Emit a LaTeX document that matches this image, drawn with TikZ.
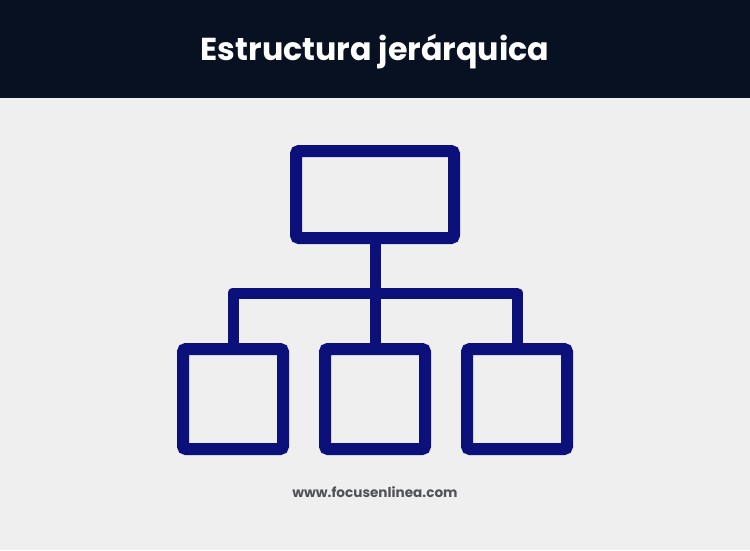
\documentclass[tikz,border=0pt]{standalone}
\usepackage{fontspec}
\setmainfont{Poppins}
\usepackage{tikz}
\usetikzlibrary{positioning}

\definecolor{headbg}{RGB}{7,17,33}
\definecolor{pagebg}{RGB}{239,239,239}
\definecolor{orgblue}{RGB}{12,16,122}
\definecolor{urlgray}{RGB}{80,82,86}

\begin{document}
\begin{tikzpicture}[x=1pt,y=1pt,node distance=142pt]
\tikzstyle{orgbox}=[draw=orgblue,line width=12pt,rounded corners=3pt,inner sep=0pt]
\tikzstyle{link}=[draw=orgblue,line width=11pt,line join=round]

  % page
  \useasboundingbox (0,0) rectangle (750,-550);
  \fill[pagebg] (0,0) rectangle (750,-550);
  \fill[headbg] (0,0) rectangle (750,-98);
  \node[text=white,font=\fontsize{31.7}{36}\selectfont\bfseries] (title) at (375,-52) {Estructura jerárquica};

        % boxes
        \node[orgbox,minimum width=158pt,minimum height=87pt] (top) at (375,-194.5) {};
        \node[orgbox,minimum width=100pt,minimum height=100pt,node distance=204.5pt] (mid) [below of=top] {};
        \node[orgbox,minimum width=100pt,minimum height=100pt] (left) [left of=mid] {};
        \node[orgbox,minimum width=100pt,minimum height=100pt] (right) [right of=mid] {};

        \coordinate (bar) at (375,-293);

        \path[link]
        (top.south) -- (bar)
        (mid.north) -- (bar)
        (left.north) |- (bar)
        (right.north) |- (bar)
        ; %end path

  \node[text=urlgray,font=\fontsize{13.6}{16}\selectfont\bfseries] (url) at (375,-492) {www.focusenlinea.com};
\end{tikzpicture}
\end{document}
